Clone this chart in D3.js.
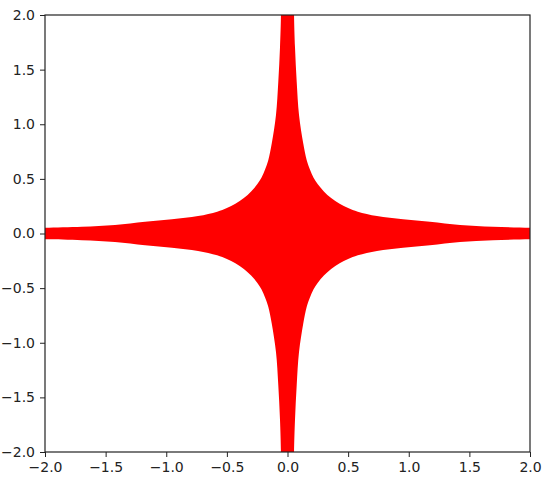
<!DOCTYPE html>
<html>
<head>
<meta charset="utf-8">
<script src="https://cdn.jsdelivr.net/npm/d3@7"></script>
<style>
  body { margin: 0; background: #fff; }
  .tick text { font-family: "DejaVu Sans", sans-serif; font-size: 14px; fill: #222; }
  .tick line { stroke: #222; }
</style>
</head>
<body>
<div id="chart"></div>
<script>
// boundary of the red region in the upper-right quadrant
// (first and last points sit just past the frame so the clip gives flat ends)
const edgeX = [0.054, 0.054, 0.062, 0.076, 0.095, 0.130, 0.158, 0.185, 0.215, 0.250, 0.300, 0.360, 0.430, 0.500, 0.580, 0.738, 0.953, 1.175, 1.423, 1.695, 2.0, 2.15];
const edgeY = [2.15, 2.0, 1.70, 1.387, 1.085, 0.824, 0.673, 0.585, 0.510, 0.450, 0.385, 0.325, 0.272, 0.234, 0.200, 0.160, 0.130, 0.108, 0.078, 0.062, 0.053, 0.053];
const xTicks = [-2.0, -1.5, -1.0, -0.5, 0.0, 0.5, 1.0, 1.5, 2.0];
const yTicks = [-2.0, -1.5, -1.0, -0.5, 0.0, 0.5, 1.0, 1.5, 2.0];

const margin = { top: 15, right: 20, bottom: 40, left: 45 },
      width = 550 - margin.left - margin.right,
      height = 492 - margin.top - margin.bottom;

const svg = d3.select("#chart")
    .append("svg")
    .attr("width", width + margin.left + margin.right)
    .attr("height", height + margin.top + margin.bottom)
    .append("g")
    .attr("transform", `translate(${margin.left},${margin.top})`);

const x = d3.scaleLinear().domain([-2, 2]).range([0, width]);
const y = d3.scaleLinear().domain([-2, 2]).range([height, 0]);

svg.append("clipPath")
    .attr("id", "clip")
    .append("rect")
    .attr("width", width)
    .attr("height", height);

// mirror the quadrant into the four arms of the star
const q1 = edgeX.map((v, i) => [v, edgeY[i]]);
const q4 = q1.slice().reverse().map(([a, b]) => [a, -b]);
const q3 = q1.map(([a, b]) => [-a, -b]);
const q2 = q1.slice().reverse().map(([a, b]) => [-a, b]);
const shape = q1.concat(q4, q3, q2);

const line = d3.line()
    .x(d => x(d[0]))
    .y(d => y(d[1]))
    .curve(d3.curveCatmullRomClosed.alpha(0.5));

svg.append("path")
    .datum(shape)
    .attr("clip-path", "url(#clip)")
    .attr("fill", "#ff0000")
    .attr("d", line);

const fmt = d3.format(".1f");

svg.append("g")
    .attr("transform", `translate(0,${height})`)
    .call(d3.axisBottom(x).tickValues(xTicks).tickFormat(fmt).tickSize(5).tickPadding(5))
    .call(g => g.select(".domain").remove());

svg.append("g")
    .call(d3.axisLeft(y).tickValues(yTicks).tickFormat(fmt).tickSize(5).tickPadding(5))
    .call(g => g.select(".domain").remove());

svg.append("rect")
    .attr("width", width)
    .attr("height", height)
    .attr("fill", "none")
    .attr("stroke", "#222")
    .attr("stroke-width", 1.2);
</script>
</body>
</html>
